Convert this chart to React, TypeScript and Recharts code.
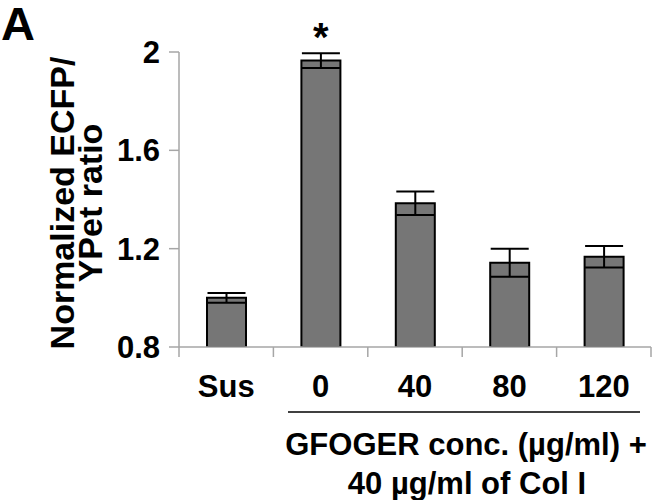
import { BarChart, Bar, XAxis, YAxis, ErrorBar, LabelList } from 'recharts';

const categories = ['Sus', '0', '40', '80', '120'];
const ratioMeans = [1.0, 1.965, 1.385, 1.143, 1.167];
const ratioErrors = [0.02, 0.03, 0.048, 0.057, 0.044];
const significance = ['', '*', '', '', ''];
const yTicks = [0.8, 1.2, 1.6, 2];
const yMin = 0.8;
const yMax = 2;

const FONT = '"Liberation Sans", Arial, sans-serif';

const chartData = categories.map((name, i) => ({
  name,
  mean: ratioMeans[i],
  err: ratioErrors[i],
  sig: significance[i],
}));

function CategoryTick(props: any) {
  const { x, y, payload, index, visibleTicksCount } = props;
  const half = payload?.offset ?? 0;
  const last = index === (visibleTicksCount ?? categories.length) - 1;
  return (
    <g>
      <line x1={x - half} y1={y} x2={x - half} y2={y + 10} stroke="#a6a6a6" strokeWidth={1.5} />
      {last && <line x1={x + half} y1={y} x2={x + half} y2={y + 10} stroke="#a6a6a6" strokeWidth={1.5} />}
      <text x={x} y={y + 50} textAnchor="middle" fontFamily={FONT} fontWeight="bold" fontSize={31} fill="#000">
        {payload.value}
      </text>
    </g>
  );
}

// asterisk sits just above the upper error cap
function SigLabel(props: any) {
  const { x, y, width, height, index } = props;
  const mark = significance[index];
  if (!mark) return null;
  const ppu = height / (ratioMeans[index] - yMin);
  const errTop = y - ratioErrors[index] * ppu;
  return (
    <text x={x + width / 2} y={errTop - 2} textAnchor="middle" fontFamily={FONT} fontWeight="bold" fontSize={40} fill="#000">
      {mark}
    </text>
  );
}

export default function App() {
  return (
    <div style={{ position: 'absolute', left: 0, top: 0, width: 656, height: 500, background: '#fff' }}>
      <BarChart
        width={656}
        height={500}
        data={chartData}
        margin={{ top: 52, right: 5, bottom: 103, left: 119 }}
      >
        <XAxis
          dataKey="name"
          height={50}
          axisLine={{ stroke: '#a6a6a6', strokeWidth: 1.5 }}
          tickLine={false}
          tickSize={0}
          tickMargin={0}
          interval={0}
          tick={<CategoryTick />}
        />
        <YAxis
          type="number"
          domain={[yMin, yMax]}
          ticks={yTicks}
          width={60}
          allowDataOverflow
          axisLine={{ stroke: '#a6a6a6', strokeWidth: 1.5 }}
          tickLine={{ stroke: '#a6a6a6', strokeWidth: 1.5 }}
          tickSize={10}
          tickMargin={9}
          tickFormatter={(v: number) => String(v)}
          tick={{ fill: '#000', fontSize: 31, fontWeight: 'bold', fontFamily: FONT }}
        />
        <Bar dataKey="mean" fill="#767676" stroke="#000" strokeWidth={2} barSize={39} isAnimationActive={false}>
          <ErrorBar dataKey="err" width={19} stroke="#000" strokeWidth={2} isAnimationActive={false} />
          <LabelList dataKey="sig" content={<SigLabel />} />
        </Bar>
      </BarChart>
      <svg
        width={656}
        height={500}
        style={{ position: 'absolute', left: 0, top: 0, pointerEvents: 'none' }}
      >
        <text x={1} y={40} fontFamily={FONT} fontWeight="bold" fontSize={47} fill="#000">A</text>
        <g transform="translate(74, 203) rotate(-90)">
          <text x={0} y={0} textAnchor="middle" fontFamily={FONT} fontWeight="bold" fontSize={34} fill="#000">
            Normalized ECFP/
          </text>
          <text x={0} y={28} textAnchor="middle" fontFamily={FONT} fontWeight="bold" fontSize={34} fill="#000">
            YPet ratio
          </text>
        </g>
        <line x1={288} y1={412} x2={640} y2={412} stroke="#000" strokeWidth={1.5} />
        <text x={466} y={455} textAnchor="middle" fontFamily={FONT} fontWeight="bold" fontSize={31} fill="#000">
          GFOGER conc. (µg/ml) +
        </text>
        <text x={467} y={494} textAnchor="middle" fontFamily={FONT} fontWeight="bold" fontSize={31} fill="#000">
          40 µg/ml of Col I
        </text>
      </svg>
    </div>
  );
}
